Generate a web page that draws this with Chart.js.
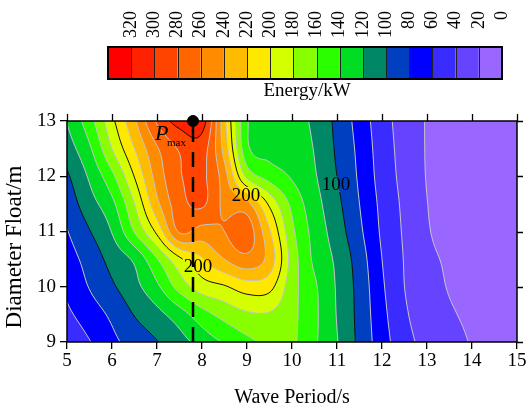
<!DOCTYPE html>
<html>
<head>
<meta charset="utf-8">
<script src="https://cdn.jsdelivr.net/npm/chart.js@4.4.0/dist/chart.umd.min.js"></script>
<style>
  html, body { margin: 0; padding: 0; background: #fff; }
</style>
</head>
<body>
<canvas id="myChart" width="526" height="408"></canvas>
<script>
// wave period axis (s) and float diameter axis (m) of the energy grid
const periods = [5, 5.5, 6, 6.5, 7, 7.5, 8, 8.5, 9, 9.5, 10, 10.5, 11, 11.5, 12, 12.5, 13, 13.5, 14, 14.5, 15];
const diameters = [9, 9.5, 10, 10.5, 11, 11.5, 12, 12.5, 13];

// energy (kW), one list per diameter
const energy_9m    = [44, 59, 75, 88, 99, 112, 128, 142, 155, 164, 163, 143, 121, 95, 69, 47, 34, 26, 19, 15, 13];
const energy_9_5m  = [56, 70, 84, 101, 114, 131, 152, 167, 177, 178, 165, 144, 119, 94, 66, 43, 30, 22, 17, 14, 13];
const energy_10m   = [64, 81, 97, 114, 136, 168, 190, 198, 210, 206, 168, 143, 118, 93, 63, 40, 27, 19, 15, 13, 12];
const energy_10_5m = [71, 88, 107, 124, 159, 196, 218, 240, 254, 232, 172, 136, 116, 90, 60, 39, 24, 18, 14, 12, 11];
const energy_11m   = [79, 99, 121, 161, 205, 262, 252, 260, 270, 222, 165, 133, 110, 84, 57, 37.5, 21.5, 16, 13, 11, 10];
const energy_11_5m = [88, 112, 135, 180, 235, 272, 283, 255, 245, 196, 155, 128, 105, 80, 55, 36, 20.3, 15.5, 12.5, 10.5, 9.5];
const energy_12m   = [97, 123, 155, 201, 248, 278, 284, 248, 175, 152, 138, 122, 100, 77, 52, 34, 19.3, 15, 12, 10, 9];
const energy_12_5m = [110, 137, 180, 220, 258, 282, 289, 232, 145, 134, 131, 119, 97, 75, 50, 33, 19, 15, 12, 10, 9];
const energy_13m   = [121, 152, 195, 237, 283, 308, 310, 225, 142, 133, 128, 116, 95, 72, 48, 32, 19, 15, 12, 10, 9];
const energyRows = [energy_9m, energy_9_5m, energy_10m, energy_10_5m, energy_11m, energy_11_5m, energy_12m, energy_12_5m, energy_13m];

// contour levels, 20 kW apart, colours from low to high
const levelStep = 20;
const bandColors = ['#9966ff', '#6644ff', '#3a2cff', '#0000ff', '#0040c0', '#008866', '#00dd22', '#2aff00', '#88ff00',
                    '#d4ff00', '#ffe800', '#ffbb00', '#ff8c00', '#ff6600', '#ff4400', '#ff2200', '#ff0000'];
const barLabels = ['320', '300', '280', '260', '240', '220', '200', '180', '160', '140', '120', '100', '80', '60', '40', '20', '0'];

// labels written on the contour lines
const labelTexts = ['200', '200', '100'];
const labelPeriods = [8.98, 7.91, 10.98];
const labelDiameters = [11.66, 10.38, 11.86];

// point of maximum power
const pmaxPeriod = 7.8;
const pmaxDiameter = 13;

const serif = "'Liberation Serif', 'Times New Roman', serif";

function gridVal(i, j) {
  const nI = periods.length, nJ = diameters.length;
  if (i < 0) return 2 * gridVal(0, j) - gridVal(1, j);
  if (i >= nI) return 2 * gridVal(nI - 1, j) - gridVal(nI - 2, j);
  if (j < 0) return 2 * gridVal(i, 0) - gridVal(i, 1);
  if (j >= nJ) return 2 * gridVal(i, nJ - 1) - gridVal(i, nJ - 2);
  return energyRows[j][i];
}

function cr(p0, p1, p2, p3, t) {
  return p1 + 0.5 * t * (p2 - p0 + t * (2 * p0 - 5 * p1 + 4 * p2 - p3 + t * (3 * (p1 - p2) + p3 - p0)));
}

// smooth reading of the grid between its nodes
function energyAt(T, D) {
  const u = (T - periods[0]) / (periods[1] - periods[0]);
  const v = (D - diameters[0]) / (diameters[1] - diameters[0]);
  const i0 = Math.max(0, Math.min(periods.length - 2, Math.floor(u)));
  const j0 = Math.max(0, Math.min(diameters.length - 2, Math.floor(v)));
  const t = u - i0, s = v - j0;
  const r = [];
  for (let jj = j0 - 1; jj <= j0 + 2; jj++) {
    r.push(cr(gridVal(i0 - 1, jj), gridVal(i0, jj), gridVal(i0 + 1, jj), gridVal(i0 + 2, jj), t));
  }
  return cr(r[0], r[1], r[2], r[3], s);
}

function bandOf(val) {
  return Math.max(0, Math.min(bandColors.length - 1, Math.floor(val / levelStep)));
}

function hexToRgb(h) {
  return [parseInt(h.substr(1, 2), 16), parseInt(h.substr(3, 2), 16), parseInt(h.substr(5, 2), 16)];
}

const contourPlugin = {
  id: 'contour',
  beforeDatasetsDraw(chart) {
    const { ctx, chartArea: a, scales: { x, y } } = chart;
    const left = Math.round(a.left), top = Math.round(a.top);
    const w = Math.round(a.right) - left, h = Math.round(a.bottom) - top;

    // filled bands
    const rgb = bandColors.map(hexToRgb);
    const img = ctx.createImageData(w, h);
    for (let py = 0; py < h; py++) {
      const D = y.getValueForPixel(top + py + 0.5);
      for (let px = 0; px < w; px++) {
        const T = x.getValueForPixel(left + px + 0.5);
        const c = rgb[bandOf(energyAt(T, D))];
        const k = (py * w + px) * 4;
        img.data[k] = c[0]; img.data[k + 1] = c[1]; img.data[k + 2] = c[2]; img.data[k + 3] = 255;
      }
    }
    ctx.putImageData(img, left, top);

    // contour lines (marching squares)
    const step = 2;
    const nx = Math.ceil(w / step) + 1, ny = Math.ceil(h / step) + 1;
    const vals = new Float32Array(nx * ny);
    for (let j = 0; j < ny; j++) {
      const D = y.getValueForPixel(top + j * step);
      for (let i = 0; i < nx; i++) {
        vals[j * nx + i] = energyAt(x.getValueForPixel(left + i * step), D);
      }
    }

    ctx.save();
    ctx.font = '19px ' + serif;
    ctx.beginPath();
    ctx.rect(a.left, a.top, a.right - a.left, a.bottom - a.top);
    labelTexts.forEach((txt, k) => {
      const lx = x.getPixelForValue(labelPeriods[k]), ly = y.getPixelForValue(labelDiameters[k]);
      const tw = ctx.measureText(txt).width;
      ctx.rect(lx - tw / 2 - 1, ly - 8, tw + 2, 16);
    });
    ctx.clip('evenodd');
    ctx.lineWidth = 1;
    for (let b = 1; b < bandColors.length; b++) {
      const L = b * levelStep;
      ctx.beginPath();
      for (let j = 0; j < ny - 1; j++) {
        for (let i = 0; i < nx - 1; i++) {
          const va = vals[j * nx + i], vb = vals[j * nx + i + 1];
          const vc = vals[(j + 1) * nx + i + 1], vd = vals[(j + 1) * nx + i];
          const x0 = left + i * step, y0 = top + j * step;
          const pts = [];
          if ((va >= L) !== (vb >= L)) pts.push([x0 + step * (L - va) / (vb - va), y0]);
          if ((vb >= L) !== (vc >= L)) pts.push([x0 + step, y0 + step * (L - vb) / (vc - vb)]);
          if ((vd >= L) !== (vc >= L)) pts.push([x0 + step * (L - vd) / (vc - vd), y0 + step]);
          if ((va >= L) !== (vd >= L)) pts.push([x0, y0 + step * (L - va) / (vd - va)]);
          for (let p = 0; p + 1 < pts.length; p += 2) {
            ctx.moveTo(pts[p][0], pts[p][1]);
            ctx.lineTo(pts[p + 1][0], pts[p + 1][1]);
          }
        }
      }
      ctx.strokeStyle = L % 100 === 0 ? '#111' : '#c4c4c4';
      ctx.stroke();
    }
    ctx.restore();

    // contour labels
    ctx.save();
    ctx.fillStyle = '#000';
    ctx.font = '19px ' + serif;
    ctx.textAlign = 'center';
    ctx.textBaseline = 'middle';
    labelTexts.forEach((txt, k) => {
      ctx.fillText(txt, x.getPixelForValue(labelPeriods[k]), y.getPixelForValue(labelDiameters[k]) + 1);
    });

    // frame and mirrored ticks
    ctx.strokeStyle = '#000';
    ctx.lineWidth = 1.5;
    ctx.strokeRect(a.left, a.top, a.right - a.left, a.bottom - a.top);
    ctx.lineWidth = 1.3;
    ctx.beginPath();
    x.ticks.forEach(t => {
      const px = Math.round(x.getPixelForValue(t.value)) + 0.5;
      ctx.moveTo(px, a.top); ctx.lineTo(px, a.top - 7);
    });
    y.ticks.forEach(t => {
      const py = Math.round(y.getPixelForValue(t.value)) + 0.5;
      ctx.moveTo(a.right, py); ctx.lineTo(a.right + 6, py);
    });
    ctx.stroke();
    ctx.restore();
  },
  afterDraw(chart) {
    const { ctx, scales: { x, y } } = chart;
    ctx.save();
    // P_max annotation
    const px = x.getPixelForValue(pmaxPeriod), py = y.getPixelForValue(pmaxDiameter);
    ctx.fillStyle = '#000';
    ctx.textAlign = 'left';
    ctx.textBaseline = 'alphabetic';
    ctx.font = 'italic 22px ' + serif;
    ctx.fillText('P', px - 38, py + 19);
    ctx.font = '11px ' + serif;
    ctx.fillText('max', px - 26, py + 25);

    // y axis title
    ctx.font = '23px ' + serif;
    ctx.textAlign = 'center';
    ctx.textBaseline = 'middle';
    ctx.translate(15, 247);
    ctx.rotate(-Math.PI / 2);
    ctx.fillText('Diameter Float/m', 0, 0);
    ctx.restore();

    // colour bar
    const barLeft = 108, barRight = 502, barTop = 47, barBottom = 79;
    const n = bandColors.length;
    const bw = (barRight - barLeft) / n;
    ctx.save();
    for (let i = 0; i < n; i++) {
      ctx.fillStyle = bandColors[n - 1 - i];
      ctx.fillRect(barLeft + i * bw, barTop, bw, barBottom - barTop);
    }
    ctx.strokeStyle = '#222';
    ctx.lineWidth = 1;
    ctx.beginPath();
    for (let i = 1; i < n; i++) {
      const bx = Math.round(barLeft + i * bw) + 0.5;
      ctx.moveTo(bx, barTop); ctx.lineTo(bx, barBottom);
    }
    ctx.stroke();
    ctx.lineWidth = 2;
    ctx.strokeStyle = '#000';
    ctx.strokeRect(barLeft, barTop, barRight - barLeft, barBottom - barTop);

    ctx.fillStyle = '#000';
    ctx.font = '18px ' + serif;
    ctx.textAlign = 'right';
    ctx.textBaseline = 'middle';
    barLabels.forEach((lab, i) => {
      ctx.save();
      ctx.translate(barLeft + (i + 1) * bw, 11);
      ctx.rotate(-Math.PI / 2);
      ctx.fillText(lab, 0, 0);
      ctx.restore();
    });
    ctx.font = '19px ' + serif;
    ctx.textAlign = 'center';
    ctx.textBaseline = 'alphabetic';
    ctx.fillText('Energy/kW', 307, 96);
    ctx.restore();
  }
};

function fitX(scale) {
  scale.height = 66;
  scale.paddingLeft = 0; scale.paddingRight = 0;
}
function fitY(scale) {
  scale.width = 67;
  scale.paddingTop = 0; scale.paddingBottom = 0;
}

const axisTicks = { color: '#000', font: { family: serif, size: 19 } };

new Chart(document.getElementById('myChart'), {
  type: 'scatter',
  data: {
    datasets: [
      {
        type: 'line',
        data: [{ x: pmaxPeriod, y: diameters[0] }, { x: pmaxPeriod, y: pmaxDiameter }],
        borderColor: '#000',
        borderWidth: 2.5,
        borderDash: [15, 10],
        pointRadius: 0,
        fill: false
      },
      {
        data: [{ x: pmaxPeriod, y: pmaxDiameter }],
        pointRadius: 5.5,
        pointBackgroundColor: '#000',
        pointBorderColor: '#000',
        clip: false
      }
    ]
  },
  options: {
    responsive: false,
    animation: false,
    devicePixelRatio: 1,
    layout: { padding: { top: 121, right: 9, left: 0, bottom: 0 } },
    plugins: { legend: { display: false }, tooltip: { enabled: false } },
    scales: {
      x: {
        type: 'linear', min: 5, max: 15,
        ticks: Object.assign({ stepSize: 1, padding: 1, maxRotation: 0 }, axisTicks),
        grid: { drawOnChartArea: false, color: '#000', lineWidth: 1.3, tickLength: 7 },
        border: { display: false },
        title: { display: true, text: 'Wave Period/s', color: '#000', font: { family: serif, size: 20 }, padding: { top: 0, bottom: -2 } },
        afterFit: fitX
      },
      y: {
        type: 'linear', min: 9, max: 13,
        ticks: Object.assign({ stepSize: 1, padding: 4 }, axisTicks),
        grid: { drawOnChartArea: false, color: '#000', lineWidth: 1.3, tickLength: 7 },
        border: { display: false },
        afterFit: fitY
      }
    }
  },
  plugins: [contourPlugin]
});
</script>
</body>
</html>
